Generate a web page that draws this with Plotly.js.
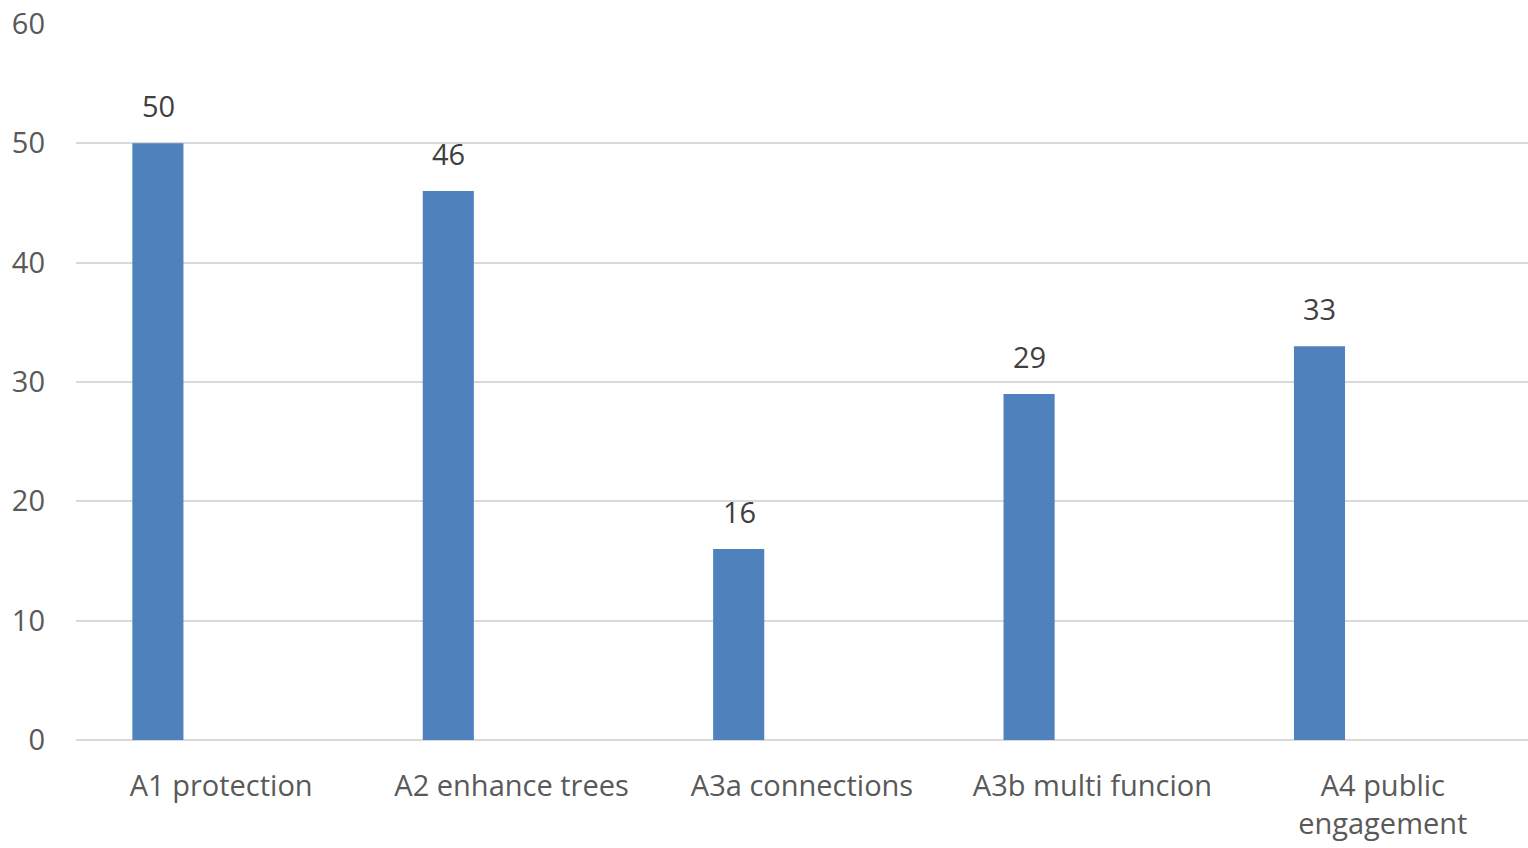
<!DOCTYPE html>
<html>
<head>
<meta charset="utf-8">
<script src="https://cdn.plot.ly/plotly-3.0.1.min.js"></script>
<style>
  html, body { margin: 0; padding: 0; background: #ffffff; }
  #chart { width: 1528px; height: 848px; }
</style>
</head>
<body>
<div id="chart"></div>
<script>
// Action categories and their counts
const categories = ['A1 protection', 'A2 enhance trees', 'A3a connections', 'A3b multi funcion', 'A4 public<br>engagement'];
const counts = [50, 46, 16, 29, 33];
const yTicks = [0, 10, 20, 30, 40, 50, 60];

const FONT = '"Open Sans", Lato, sans-serif';
const SIZE = 29;

const bars = {
  type: 'bar',
  x: categories,
  y: counts,
  width: 0.176,
  offset: -0.306,
  marker: { color: '#4F81BD', line: { width: 0 } },
  hoverinfo: 'x+y'
};

// Value labels sitting above each bar
const valueLabels = categories.map((c, i) => ({
  x: c,
  y: counts[i],
  xref: 'x',
  yref: 'y',
  text: String(counts[i]),
  showarrow: false,
  xanchor: 'center',
  yanchor: 'bottom',
  xshift: -63,
  yshift: 16,
  font: { family: FONT, size: SIZE, color: '#404040' }
}));

const layout = {
  width: 1528,
  height: 848,
  margin: { l: 76, r: 0, t: 24, b: 108 },
  paper_bgcolor: '#ffffff',
  plot_bgcolor: '#ffffff',
  showlegend: false,
  font: { family: FONT, color: '#595959', size: SIZE },
  xaxis: {
    type: 'category',
    showgrid: false,
    showline: false,
    ticks: '',
    ticklabelstandoff: 26,
    tickfont: { family: FONT, size: SIZE, color: '#595959' },
    fixedrange: true
  },
  yaxis: {
    range: [0, 60],
    tickvals: yTicks,
    ticktext: yTicks.map(String),
    showgrid: true,
    gridcolor: '#D9D9D9',
    gridwidth: 2,
    zeroline: true,
    zerolinecolor: '#D9D9D9',
    zerolinewidth: 2,
    showline: false,
    ticks: '',
    ticklabelstandoff: 30,
    tickfont: { family: FONT, size: SIZE, color: '#595959' },
    fixedrange: true
  },
  annotations: valueLabels
};

Plotly.newPlot('chart', [bars], layout, { displayModeBar: false, staticPlot: true });
</script>
</body>
</html>
